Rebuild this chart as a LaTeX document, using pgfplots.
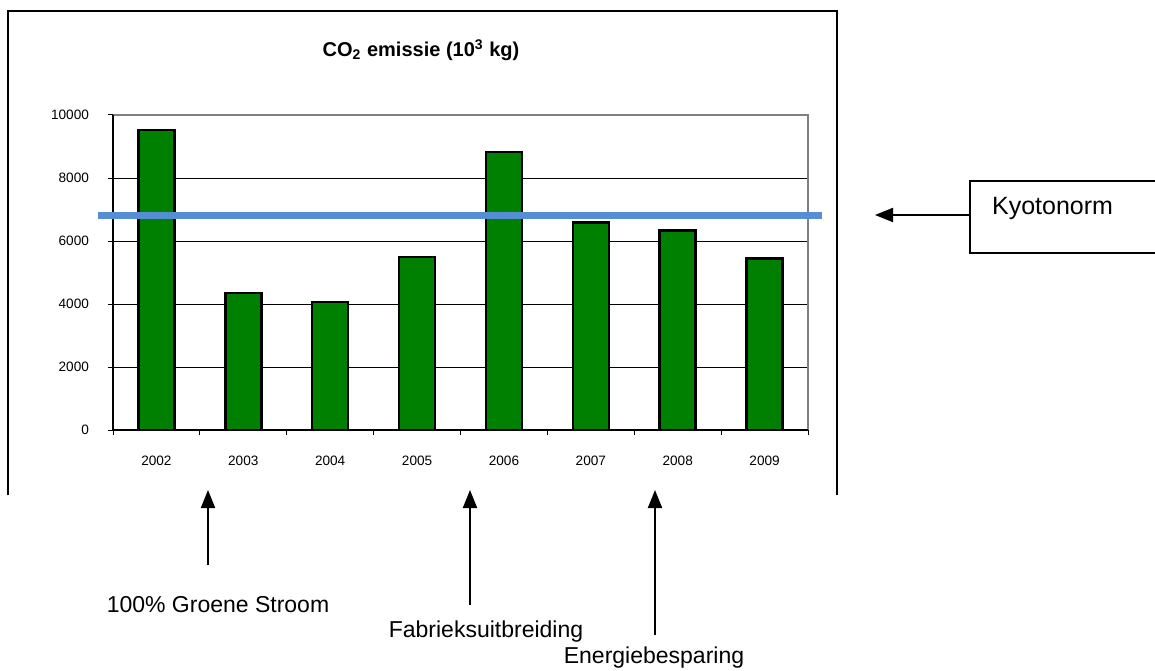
\documentclass[border=0pt]{standalone}
\usepackage{fontspec}
\setmainfont{Liberation Sans}
\usepackage{pgfplots}
\pgfplotsset{compat=1.18}
\usetikzlibrary{arrows.meta}
\definecolor{bargreen}{RGB}{0,128,0}
\definecolor{kyoto}{RGB}{85,142,213}
\definecolor{framegray}{RGB}{128,128,128}
\begin{document}
\begin{tikzpicture}[x=0.5pt,y=0.5pt]
\useasboundingbox (0,0) rectangle (1155,670);
\draw[line width=0.75pt] (8,175) -- (8,659) -- (837,659) -- (837,175);
\node[font=\bfseries\fontsize{10}{12}\selectfont] at (421,620) {CO\textsubscript{2} emissie (10\textsuperscript{3} kg)};
\begin{axis}[
  at={(56.5pt,120pt)}, anchor=south west, scale only axis,
  width=347.5pt, height=157.5pt,
  xmin=-0.5, xmax=7.5, ymin=0, ymax=10000,
  clip=false,
  axis line style={draw=none},
  xtick={0,...,7},
  xticklabels={2002,2003,2004,2005,2006,2007,2008,2009},
  major x tick style={draw=none},
  minor xtick={-0.5,0.5,...,7.5},
  minor tick length=2.5pt,
  minor x tick style={black, line width=0.5pt},
  xtick pos=bottom, ytick pos=left,
  tick align=outside,
  ytick={0,2000,...,10000},
  major tick length=2.5pt,
  ymajorgrids, grid style={black, line width=0.5pt},
  y tick style={black, line width=0.5pt},
  ticklabel style={font=\fontsize{6.8}{8}\selectfont},
  yticklabel style={xshift=-6pt},
  xticklabel style={yshift=-7pt},
  scaled y ticks=false,
  yticklabel={\pgfmathprintnumber[fixed,1000 sep={}]{\tick}},
  /pgf/number format/assume math mode=true,
]
\draw[framegray, line width=1pt] (rel axis cs:0,1) -- (rel axis cs:1,1) -- (rel axis cs:1,0);
\draw[black, line width=0.6pt] (rel axis cs:0,1) -- (rel axis cs:0,0) -- (rel axis cs:1,0);
\addplot[ybar, bar width=18pt, fill=bargreen, draw=black, line width=1.3pt]
  coordinates {(0,9520) (1,4350) (2,4060) (3,5490) (4,8830) (5,6580) (6,6330) (7,5450)};
\addplot[kyoto, line width=3.5pt] coordinates {(-0.673,6800) (7.661,6800)};
\end{axis}
% Kyotonorm box and arrow
\draw[line width=0.6pt] (1160,489) -- (970,489) -- (970,417) -- (1160,417);
\node[anchor=west, font=\fontsize{12.5}{14}\selectfont] at (985,462) {Kyotonorm};
\draw[line width=1pt, -{Triangle[length=9pt,width=7pt]}] (970,455) -- (875,455);
% vertical arrows
\draw[line width=1pt, -{Triangle[length=9pt,width=7pt]}] (208,105) -- (208,180);
\draw[line width=1pt, -{Triangle[length=9pt,width=7pt]}] (470,65) -- (470,180);
\draw[line width=1pt, -{Triangle[length=9pt,width=7pt]}] (655,35) -- (655,180);
\node[font=\fontsize{11.5}{13}\selectfont] at (218,65) {100\% Groene Stroom};
\node[font=\fontsize{11.5}{13}\selectfont] at (486,38) {Fabrieksuitbreiding};
\node[font=\fontsize{11.5}{13}\selectfont] at (654,12) {Energiebesparing};
\end{tikzpicture}
\end{document}
